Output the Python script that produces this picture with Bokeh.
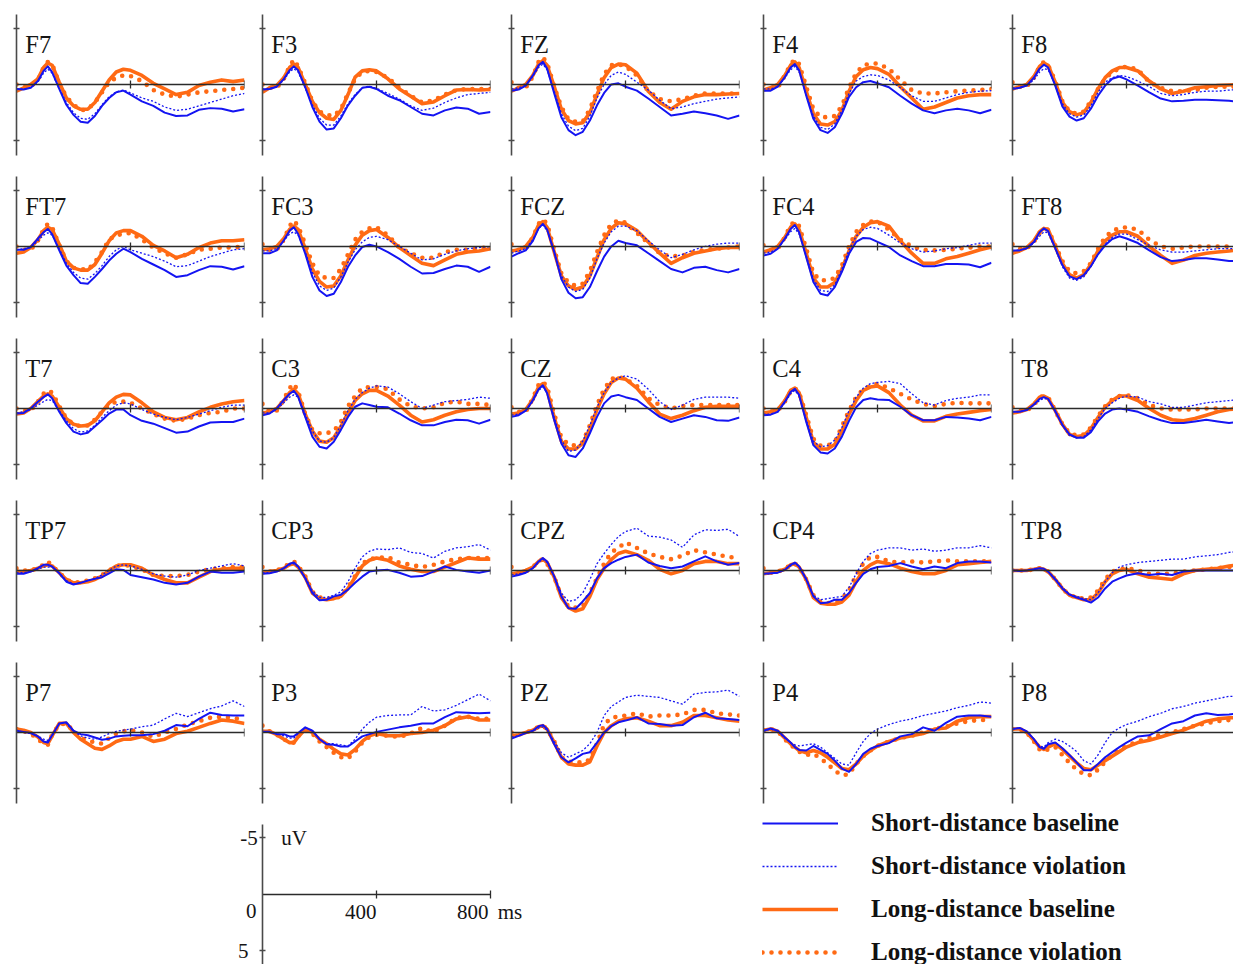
from bokeh.plotting import figure
from bokeh.models import (LinearAxis, FixedTicker, Range1d, Label, Legend, LegendItem,
                          CustomJSTickFormatter)
from bokeh.layouts import column, row
from bokeh.embed import file_html
from bokeh.resources import INLINE

# ---------------- data (µV, negative plotted up) ----------------
T = [0, 25, 50, 75, 95, 110, 125, 150, 175, 200, 225, 250, 275, 300, 325, 350, 375, 400,
     440, 480, 520, 560, 600, 640, 680, 720, 760, 800]

F7_sb = [0.4,0.45,0.3,-0.3,-1.2,-1.6,-1.1,0.4,1.8,2.7,3.3,3.4,2.8,1.9,1.2,0.7,0.55,0.9,1.5,1.9,2.5,2.8,2.75,2.25,2.1,2.15,2.4,2.2]
F7_sv = [0.4,0.4,0.3,-0.2,-1.0,-1.35,-1.0,0.4,1.6,2.5,3.0,3.1,2.6,1.8,1.1,0.65,0.5,0.75,1.2,1.5,2.0,2.3,2.2,1.9,1.6,1.3,1.0,0.8]
F7_lb = [0.6,0.3,0.0,-0.5,-1.5,-1.9,-1.7,-0.2,1.2,1.9,2.2,2.2,1.6,0.6,-0.4,-1.1,-1.35,-1.25,-0.8,-0.1,0.4,0.9,0.7,0.1,-0.2,-0.4,-0.25,-0.4]
F7_lv = [0.0,0.2,0.2,-0.4,-1.5,-2.0,-1.8,-0.1,1.1,1.8,2.3,2.2,1.6,0.7,-0.2,-0.6,-0.8,-0.75,-0.3,0.5,0.9,1.1,0.9,0.7,0.6,0.5,0.4,0.3]

F3_sb = [0.45,0.4,0.2,-0.5,-1.25,-1.6,-1.25,0.25,2.0,3.3,4.0,3.9,3.0,1.85,1.0,0.3,0.2,0.4,1.0,1.4,2.0,2.6,2.75,2.3,2.05,2.15,2.6,2.45]
F3_sv = [0.4,0.35,0.2,-0.4,-1.1,-1.4,-1.1,0.3,1.8,3.0,3.6,3.6,2.8,1.7,0.9,0.3,0.15,0.35,0.8,1.3,1.9,2.3,2.1,1.6,1.2,0.9,0.8,0.7]
F3_lb = [0.7,0.3,0.1,-0.6,-1.5,-1.8,-1.5,0.0,1.5,2.5,3.0,3.1,2.3,0.9,-0.65,-1.2,-1.3,-1.2,-0.5,0.4,1.05,1.7,1.55,1.0,0.5,0.45,0.5,0.45]
F3_lv = [0.0,0.3,0.3,-0.5,-1.6,-2.2,-1.6,-0.1,1.5,2.4,2.7,2.8,2.2,0.8,-0.5,-1.1,-1.2,-1.1,-0.6,0.3,1.0,1.6,1.4,0.9,0.5,0.4,0.4,0.4]

FZ_sb = [0.55,0.45,0.1,-0.8,-1.7,-2.0,-1.4,0.8,2.9,4.05,4.5,4.2,3.2,1.85,0.75,0.0,-0.1,0.2,0.55,1.25,2.0,2.75,2.6,2.4,2.55,2.75,3.05,2.75]
FZ_sv = [0.4,0.3,0.1,-0.7,-1.5,-1.8,-1.3,0.6,2.6,3.7,4.1,3.9,2.8,1.2,0.0,-0.8,-1.1,-0.9,-0.2,0.5,1.4,2.15,2.0,1.7,1.5,1.3,1.2,1.1]
FZ_lb = [0.6,0.3,0.0,-0.8,-1.8,-2.1,-1.7,0.2,2.2,3.2,3.5,3.4,2.5,0.9,-0.6,-1.5,-1.8,-1.75,-1.0,0.6,1.6,2.2,1.5,1.1,0.9,0.9,0.85,0.8]
FZ_lv = [-0.2,0.3,0.3,-0.7,-2.0,-2.4,-1.9,0.2,2.0,3.1,3.3,3.3,2.2,0.6,-0.9,-1.7,-1.8,-1.6,-0.8,0.6,1.3,1.5,1.3,1.0,0.8,0.8,0.8,0.8]

F4_sb = [0.55,0.55,0.2,-0.65,-1.5,-1.8,-1.25,1.0,3.05,4.05,4.3,3.8,2.6,1.1,0.25,-0.2,-0.3,-0.1,0.25,1.0,1.7,2.3,2.55,2.3,2.15,2.3,2.55,2.25]
F4_sv = [0.4,0.4,0.2,-0.6,-1.3,-1.6,-1.1,0.9,2.8,3.8,4.0,3.5,2.3,0.8,-0.3,-0.7,-0.85,-0.8,-0.4,0.3,1.0,1.5,1.5,1.2,0.9,0.7,0.6,0.55]
F4_lb = [0.5,0.3,0.0,-0.8,-1.7,-2.0,-1.5,0.6,2.6,3.5,3.6,3.3,2.3,0.6,-0.7,-1.3,-1.5,-1.4,-0.9,0.2,1.2,2.2,2.0,1.6,1.2,1.0,0.9,0.9]
F4_lv = [0.0,0.3,0.3,-0.8,-1.8,-2.2,-1.8,0.2,2.2,2.9,2.9,2.8,1.9,0.3,-1.0,-1.7,-1.85,-1.85,-1.4,-0.4,0.5,0.8,0.8,0.7,0.6,0.55,0.5,0.4]

F8_sb = [0.4,0.3,0.1,-0.6,-1.4,-1.75,-1.5,0.1,1.95,2.85,3.2,3.0,2.15,1.0,0.1,-0.5,-0.7,-0.45,0.1,0.7,1.25,1.5,1.45,1.35,1.35,1.4,1.45,1.55]
F8_sv = [0.3,0.3,0.1,-0.4,-1.1,-1.4,-1.3,0.0,1.7,2.6,2.9,2.7,1.9,0.7,-0.2,-0.6,-0.8,-0.7,-0.3,0.2,0.8,1.0,0.9,0.7,0.6,0.6,0.5,0.45]
F8_lb = [0.4,0.2,0.0,-0.7,-1.6,-1.9,-1.7,-0.2,1.6,2.4,2.7,2.5,1.6,0.4,-0.6,-1.2,-1.5,-1.5,-1.2,-0.3,0.4,0.8,0.6,0.3,0.2,0.1,0.05,0.0]
F8_lv = [-0.2,0.2,0.2,-0.6,-1.6,-2.0,-1.7,-0.3,1.5,2.4,2.6,2.4,1.5,0.4,-0.5,-1.1,-1.4,-1.6,-1.3,-0.2,0.3,0.6,0.6,0.5,0.3,0.2,0.2,0.2]

FT7_sb = [0.3,0.3,0.05,-0.7,-1.25,-1.55,-1.1,0.35,1.7,2.55,3.25,3.3,2.7,2.0,1.25,0.65,0.2,0.5,1.1,1.6,2.1,2.7,2.55,2.1,1.75,1.8,2.05,1.75]
FT7_sv = [0.3,0.2,0.1,-0.5,-1.0,-1.2,-1.0,0.2,1.5,2.3,2.8,2.9,2.4,1.7,0.9,0.3,0.0,0.3,0.6,0.9,1.3,1.8,1.7,1.3,0.9,0.6,0.3,0.2]
FT7_lb = [0.6,0.5,0.1,-0.6,-1.4,-1.7,-1.5,-0.2,1.3,1.9,2.1,2.1,1.6,0.6,-0.5,-1.2,-1.4,-1.4,-0.9,-0.1,0.4,1.0,0.7,0.1,-0.3,-0.5,-0.5,-0.6]
FT7_lv = [0.0,0.3,0.3,-0.5,-1.5,-2.0,-1.7,-0.1,1.3,1.9,2.0,2.1,1.4,0.5,-0.6,-1.0,-1.1,-1.2,-0.6,0.1,0.6,1.0,0.7,0.3,0.2,0.1,0.1,0.0]

FC3_sb = [0.6,0.6,0.35,-0.55,-1.4,-1.7,-1.1,0.65,2.7,3.9,4.4,4.2,3.15,1.8,0.8,0.05,-0.15,0.0,0.5,1.1,1.8,2.4,2.35,2.0,1.7,1.8,2.25,1.8]
FC3_sv = [0.4,0.4,0.2,-0.5,-1.1,-1.3,-1.0,0.5,2.3,3.5,3.9,3.7,2.7,1.4,0.3,-0.4,-0.8,-0.9,-0.6,0.0,0.6,1.2,1.1,0.7,0.4,0.2,0.1,0.0]
FC3_lb = [0.3,0.2,0.0,-0.7,-1.5,-1.8,-1.5,0.2,2.0,3.1,3.6,3.5,2.6,1.2,-0.1,-1.0,-1.4,-1.5,-0.8,0.1,0.8,1.5,1.7,1.2,0.7,0.5,0.4,0.2]
FC3_lv = [-0.2,0.3,0.3,-0.6,-1.8,-2.3,-1.8,-0.2,1.5,2.6,2.8,2.8,2.0,0.7,-0.6,-1.3,-1.6,-1.7,-1.0,0.1,0.6,1.0,1.0,0.5,0.3,0.3,0.2,0.0]

FCZ_sb = [0.9,0.6,0.35,-0.5,-1.6,-2.0,-1.5,0.5,2.9,4.1,4.6,4.5,3.6,2.2,0.9,0.0,-0.5,-0.3,-0.1,0.6,1.3,2.0,2.3,1.9,1.8,2.1,2.3,2.0]
FCZ_sv = [0.6,0.4,0.2,-0.6,-1.6,-1.9,-1.4,0.4,2.6,3.6,4.0,3.8,2.8,1.1,-0.3,-1.3,-1.8,-1.8,-1.4,-0.5,0.3,1.0,0.7,0.3,0.0,-0.2,-0.3,-0.3]
FCZ_lb = [0.4,0.3,0.0,-0.8,-1.9,-2.2,-1.7,0.5,2.6,3.5,3.8,3.6,2.6,1.0,-0.6,-1.6,-2.1,-2.0,-1.4,-0.4,0.6,1.5,1.0,0.6,0.4,0.2,0.1,0.1]
FCZ_lv = [-0.2,0.3,0.2,-0.8,-2.0,-2.4,-2.0,0.3,2.4,3.2,3.5,3.3,2.2,0.5,-1.0,-2.0,-2.3,-2.1,-1.2,-0.3,0.6,0.9,0.8,0.5,0.3,0.2,0.1,0.0]

FC4_sb = [0.8,0.65,0.2,-0.7,-1.55,-1.9,-1.25,0.95,3.15,4.2,4.35,3.6,2.25,0.65,-0.4,-0.75,-0.7,-0.4,0.05,0.8,1.3,1.75,1.75,1.55,1.55,1.6,1.85,1.45]
FC4_sv = [0.6,0.5,0.2,-0.6,-1.3,-1.6,-1.1,0.8,2.9,3.9,4.0,3.4,2.0,0.3,-0.9,-1.5,-1.7,-1.6,-1.0,-0.3,0.2,0.5,0.4,0.2,0.1,-0.1,-0.3,-0.3]
FC4_lb = [0.5,0.3,0.0,-0.8,-1.7,-2.0,-1.5,0.6,2.8,3.6,3.6,3.2,2.0,0.4,-0.9,-1.7,-2.1,-2.2,-1.8,-0.5,0.6,1.5,1.5,1.1,0.9,0.6,0.3,0.05]
FC4_lv = [-0.1,0.3,0.2,-0.8,-1.9,-2.2,-1.8,0.2,2.4,3.0,3.0,2.8,1.7,0.0,-1.3,-1.9,-2.2,-2.2,-1.5,-0.6,0.0,0.3,0.35,0.3,0.2,0.1,0.0,0.0]

FT8_sb = [0.35,0.35,0.15,-0.4,-1.25,-1.6,-1.35,0.15,1.65,2.65,2.9,2.55,1.75,0.7,-0.1,-0.65,-0.9,-0.7,-0.3,0.35,0.95,1.3,1.2,1.05,1.05,1.15,1.3,1.3]
FT8_sv = [0.4,0.3,0.2,-0.3,-0.9,-1.3,-1.2,0.2,1.8,2.8,3.0,2.7,1.8,0.7,-0.2,-0.8,-1.1,-1.1,-0.6,-0.1,0.3,0.5,0.5,0.4,0.3,0.2,0.2,0.2]
FT8_lb = [0.6,0.4,0.1,-0.5,-1.3,-1.6,-1.5,0.0,1.5,2.5,2.8,2.5,1.6,0.4,-0.5,-1.0,-1.3,-1.3,-0.9,0.0,0.8,1.5,1.2,0.8,0.6,0.5,0.4,0.3]
FT8_lv = [-0.2,0.2,0.2,-0.4,-1.2,-1.5,-1.5,-0.1,1.3,2.2,2.4,2.2,1.5,0.2,-0.8,-1.4,-1.6,-1.7,-1.5,-0.6,0.0,0.2,0.1,0.0,0.0,0.0,0.0,0.0]

T7_sb = [0.45,0.4,0.0,-0.6,-1.0,-1.25,-0.9,0.3,1.3,2.05,2.3,2.15,1.6,1.05,0.45,0.1,0.1,0.6,1.1,1.35,1.75,2.15,2.05,1.6,1.25,1.2,1.2,0.9]
T7_sv = [0.4,0.3,0.1,-0.3,-0.6,-0.8,-0.7,0.2,1.1,1.8,2.1,2.0,1.5,0.8,0.2,-0.3,-0.5,-0.4,0.1,0.5,0.8,1.0,0.8,0.5,0.2,-0.1,-0.3,-0.3]
T7_lb = [0.5,0.4,0.0,-0.6,-1.1,-1.3,-1.1,-0.1,0.9,1.4,1.55,1.5,1.1,0.3,-0.5,-1.0,-1.25,-1.2,-0.5,0.3,0.8,1.0,0.8,0.3,-0.1,-0.4,-0.6,-0.7]
T7_lv = [0.0,0.2,0.2,-0.6,-1.3,-1.6,-1.4,-0.2,0.9,1.4,1.6,1.5,1.0,0.3,-0.3,-0.6,-0.6,-0.5,0.0,0.5,0.9,1.1,0.9,0.6,0.4,0.3,0.0,0.0]

C3_sb = [0.6,0.45,0.0,-0.75,-1.3,-1.55,-1.05,0.75,2.5,3.4,3.55,2.95,1.9,0.75,-0.15,-0.45,-0.3,-0.15,-0.1,0.45,1.05,1.5,1.5,1.2,1.0,1.05,1.35,1.0]
C3_sv = [0.4,0.4,0.1,-0.5,-1.0,-1.2,-1.0,0.5,2.0,2.9,3.0,2.6,1.5,0.2,-0.8,-1.4,-1.8,-2.0,-1.9,-1.3,-0.6,0.0,-0.3,-0.6,-0.7,-0.8,-1.0,-0.9]
C3_lb = [0.4,0.3,0.0,-0.7,-1.4,-1.7,-1.3,0.5,2.0,2.9,3.0,2.6,1.6,0.4,-0.7,-1.3,-1.6,-1.6,-1.1,-0.3,0.6,1.2,1.0,0.6,0.3,0.1,0.0,0.0]
C3_lv = [-0.4,0.3,0.2,-0.8,-1.8,-2.2,-1.5,0.5,1.9,2.2,2.2,2.0,1.2,-0.2,-1.1,-1.8,-1.9,-1.9,-1.7,-0.8,-0.2,0.0,-0.1,-0.5,-0.6,-0.4,-0.4,-0.3]

CZ_sb = [0.75,0.6,0.2,-0.75,-1.7,-2.05,-1.35,1.05,3.1,4.15,4.3,3.55,2.2,0.75,-0.45,-1.05,-1.2,-1.0,-0.75,0.0,0.75,1.2,0.9,0.6,0.75,1.05,1.1,0.8]
CZ_sv = [0.6,0.5,0.2,-0.6,-1.6,-1.9,-1.4,0.8,2.8,3.8,3.7,2.9,1.5,-0.1,-1.4,-2.3,-2.7,-2.9,-2.6,-1.7,-0.6,0.1,-0.3,-0.8,-1.0,-1.0,-1.0,-0.9]
CZ_lb = [0.5,0.4,0.1,-0.8,-1.9,-2.2,-1.6,0.8,2.9,3.6,3.6,3.1,1.8,0.1,-1.3,-2.3,-2.7,-2.6,-1.8,-0.6,0.5,0.9,0.6,0.2,-0.1,-0.2,-0.2,-0.2]
CZ_lv = [-0.1,0.3,0.3,-0.9,-2.1,-2.4,-1.9,0.5,2.6,3.2,3.3,3.0,1.5,-0.3,-1.7,-2.6,-2.8,-2.6,-2.0,-0.9,-0.3,0.0,-0.2,-0.3,-0.3,-0.3,-0.3,-0.3]

C4_sb = [0.6,0.55,0.3,-0.6,-1.45,-1.75,-1.2,1.2,3.25,3.9,4.0,3.55,2.5,1.1,-0.1,-0.75,-0.9,-0.8,-0.75,-0.15,0.6,1.05,1.05,0.75,0.8,0.9,1.05,0.75]
C4_sv = [0.5,0.5,0.3,-0.5,-1.3,-1.6,-1.1,1.0,2.9,3.4,3.3,2.8,1.7,0.2,-1.0,-1.8,-2.2,-2.3,-2.4,-2.2,-1.3,-0.5,-0.3,-0.7,-0.9,-1.0,-1.2,-1.2]
C4_lb = [0.4,0.3,0.1,-0.7,-1.6,-1.8,-1.4,0.8,3.0,3.6,3.6,3.2,2.0,0.5,-0.7,-1.6,-1.9,-2.0,-1.4,-0.3,0.6,1.1,1.1,0.7,0.5,0.35,0.2,0.1]
C4_lv = [0.0,0.3,0.2,-0.6,-1.5,-1.8,-1.4,0.6,2.7,3.3,3.3,3.0,1.6,0.2,-1.0,-1.7,-2.0,-2.2,-1.8,-1.3,-0.8,-0.4,-0.2,-0.4,-0.5,-0.45,-0.45,-0.45]

T8_sb = [0.3,0.3,0.15,-0.35,-0.85,-1.0,-0.85,0.25,1.45,2.3,2.6,2.6,2.1,1.15,0.45,0.1,0.0,0.1,0.3,0.7,1.05,1.3,1.3,1.15,1.0,1.15,1.3,1.15]
T8_sv = [0.3,0.3,0.1,-0.3,-0.7,-0.9,-0.8,0.2,1.5,2.4,2.6,2.5,1.9,0.9,0.0,-0.5,-0.9,-1.1,-1.0,-0.6,-0.4,-0.1,-0.1,-0.3,-0.5,-0.6,-0.7,-0.8]
T8_lb = [0.4,0.3,0.1,-0.4,-1.0,-1.1,-0.9,0.2,1.4,2.3,2.5,2.4,1.8,0.8,-0.1,-0.7,-1.1,-1.1,-0.7,0.0,0.6,1.0,1.1,0.9,0.6,0.3,0.1,0.0]
T8_lv = [-0.1,0.2,0.2,-0.3,-1.0,-1.1,-1.0,0.2,1.4,2.2,2.4,2.3,1.7,0.7,-0.2,-0.8,-1.1,-1.2,-0.9,-0.3,0.0,0.1,0.1,0.1,0.0,0.0,0.0,0.0]

TP7_sb = [0.3,0.3,0.1,-0.2,-0.5,-0.5,-0.35,0.25,1.0,1.25,1.1,0.9,0.75,0.6,0.25,-0.1,-0.05,0.4,0.6,0.8,1.1,1.25,1.1,0.55,0.1,0.2,0.2,0.1]
TP7_sv = [0.2,0.2,0.1,-0.1,-0.3,-0.3,-0.3,0.2,0.9,1.2,1.1,0.9,0.7,0.4,0.0,-0.4,-0.5,-0.4,-0.1,0.3,0.5,0.6,0.4,0.0,-0.2,-0.4,-0.6,-0.4]
TP7_lb = [0.1,0.1,0.0,-0.2,-0.4,-0.5,-0.4,0.2,0.8,1.1,1.1,1.0,0.8,0.5,0.0,-0.4,-0.5,-0.5,-0.2,0.4,0.8,1.1,1.1,0.6,0.1,-0.1,-0.2,-0.2]
TP7_lv = [-0.2,0.0,0.0,-0.2,-0.5,-0.8,-0.4,0.2,0.8,1.1,1.0,0.9,0.7,0.4,0.0,-0.4,-0.5,-0.4,-0.1,0.4,0.5,0.5,0.4,0.1,-0.1,-0.2,-0.3,-0.3]

CP3_sb = [0.3,0.25,0.1,-0.2,-0.6,-0.7,-0.35,0.7,2.0,2.65,2.6,2.3,2.15,1.7,1.1,0.55,0.1,0.0,-0.05,0.2,0.55,0.5,0.1,-0.35,-0.05,0.1,0.2,0.0]
CP3_sv = [0.2,0.2,0.1,-0.2,-0.5,-0.6,-0.3,0.6,1.8,2.4,2.4,2.2,1.9,1.0,-0.2,-1.2,-1.7,-1.9,-1.85,-2.0,-1.6,-1.5,-1.1,-1.7,-2.0,-2.1,-2.3,-1.8]
CP3_lb = [0.2,0.1,0.0,-0.2,-0.5,-0.6,-0.3,0.6,2.0,2.5,2.6,2.5,2.3,1.6,0.6,-0.4,-0.9,-1.1,-0.9,-0.4,-0.1,0.1,0.1,-0.3,-0.7,-1.1,-1.0,-1.0]
CP3_lv = [-0.3,0.1,0.0,-0.3,-0.6,-0.8,-0.4,0.5,1.9,2.4,2.5,2.5,2.3,1.5,0.5,-0.6,-1.0,-1.1,-1.2,-0.7,-0.5,-0.3,-0.5,-0.8,-1.0,-1.1,-1.1,-1.1]

CPZ_sb = [0.55,0.4,0.2,-0.2,-0.8,-1.1,-0.8,0.55,2.3,3.35,3.4,2.75,2.0,0.7,-0.2,-0.65,-0.95,-1.2,-1.4,-0.7,-0.4,-0.2,-0.35,-0.8,-1.25,-0.8,-0.5,-0.65]
CPZ_sv = [0.4,0.3,0.2,-0.2,-0.7,-1.0,-0.7,0.5,2.0,2.75,2.6,2.0,0.8,-0.6,-1.5,-2.3,-3.0,-3.45,-3.75,-3.05,-2.95,-2.7,-2.05,-3.15,-3.6,-3.55,-3.65,-3.0]
CPZ_lb = [0.3,0.2,0.0,-0.3,-0.8,-1.0,-0.7,0.6,2.4,3.3,3.6,3.4,2.3,0.8,-0.2,-0.95,-1.5,-1.7,-1.4,-0.9,-0.1,0.3,0.0,-0.6,-0.8,-0.8,-0.6,-0.6]
CPZ_lv = [-0.3,0.2,0.1,-0.3,-0.8,-1.0,-0.6,0.6,2.3,3.2,3.3,3.2,2.0,0.7,-0.6,-1.6,-2.0,-2.5,-2.0,-1.5,-1.2,-1.0,-1.3,-1.8,-1.6,-1.4,-1.2,-1.1]

CP4_sb = [0.3,0.25,0.2,-0.05,-0.5,-0.7,-0.35,0.8,2.3,2.9,2.85,2.6,2.6,2.0,1.1,0.3,-0.1,-0.3,-0.4,-0.65,-0.35,-0.1,-0.35,-0.2,-0.65,-0.8,-0.8,-0.7]
CP4_sv = [0.3,0.3,0.2,-0.1,-0.4,-0.6,-0.4,0.7,2.2,2.6,2.5,2.4,2.3,1.5,0.3,-0.8,-1.5,-1.8,-2.0,-2.0,-1.8,-1.9,-1.7,-1.8,-2.0,-2.0,-2.2,-2.0]
CP4_lb = [0.3,0.2,0.1,-0.1,-0.5,-0.6,-0.3,0.8,2.4,2.9,3.0,3.0,2.8,2.2,1.0,0.0,-0.5,-0.8,-0.6,-0.2,0.1,0.3,0.3,0.0,-0.5,-0.6,-0.7,-0.8]
CP4_lv = [-0.2,0.2,0.1,-0.1,-0.5,-0.6,-0.3,0.8,2.2,2.8,2.9,2.8,2.5,1.8,0.4,-0.6,-1.2,-1.2,-0.8,-0.7,-0.8,-0.7,-0.8,-0.9,-0.8,-0.8,-0.8,-0.8]

TP8_sb = [0.0,0.05,0.0,-0.1,-0.2,-0.15,0.1,0.8,1.6,2.15,2.4,2.6,2.85,2.4,1.6,1.0,0.7,0.45,0.25,0.4,0.3,0.4,0.1,0.0,0.0,0.0,0.0,0.0]
TP8_sv = [0.0,0.0,0.0,-0.1,-0.2,-0.1,0.1,0.7,1.5,2.1,2.3,2.5,2.6,2.0,1.0,0.2,-0.3,-0.5,-0.7,-0.8,-0.9,-1.0,-1.0,-1.2,-1.3,-1.4,-1.6,-1.7]
TP8_lb = [0.0,0.0,0.0,-0.1,-0.2,-0.1,0.1,0.8,1.6,2.2,2.4,2.6,2.6,2.0,1.0,0.3,0.0,-0.1,0.3,0.6,0.7,0.8,0.3,0.0,-0.1,-0.2,-0.4,-0.5]
TP8_lv = [0.0,0.0,0.0,-0.1,-0.2,-0.1,0.1,0.8,1.6,2.2,2.4,2.5,2.4,1.8,0.8,0.1,-0.1,-0.2,0.0,0.3,0.3,0.3,0.1,0.0,-0.1,-0.2,-0.3,-0.4]

P7_sb = [-0.15,-0.05,0.05,0.35,0.8,0.9,0.25,-0.8,-0.9,-0.15,0.15,0.25,0.45,0.65,0.55,0.35,0.3,0.25,0.25,0.15,-0.15,-0.65,-0.55,-1.2,-1.75,-1.55,-1.5,-1.5]
P7_sv = [-0.2,0.0,0.1,0.3,0.6,0.7,0.3,-0.8,-0.8,-0.1,0.3,0.5,0.6,0.4,0.1,-0.1,-0.2,-0.3,-0.5,-0.65,-1.2,-1.7,-1.4,-1.75,-2.1,-2.35,-2.8,-2.3]
P7_lb = [-0.3,-0.2,0.0,0.4,0.9,1.0,0.3,-0.8,-0.8,0.0,0.6,1.0,1.4,1.5,1.2,0.8,0.6,0.6,0.35,0.8,0.6,0.1,-0.1,-0.45,-0.8,-1.1,-1.0,-0.8]
P7_lv = [-0.3,-0.1,0.1,0.6,1.0,1.1,0.2,-0.7,-0.8,-0.1,0.5,0.7,0.9,1.0,0.5,0.1,-0.1,-0.2,0.0,0.4,0.0,-0.3,-0.7,-1.0,-1.3,-1.4,-1.3,-1.1]

P3_sb = [-0.05,-0.05,0.15,0.15,0.35,0.35,0.05,-0.45,-0.15,0.6,1.05,1.1,1.25,1.25,0.8,0.35,0.15,-0.05,-0.25,-0.45,-0.6,-0.8,-0.8,-1.35,-1.8,-1.75,-1.7,-1.75]
P3_sv = [0.0,0.0,0.1,0.3,0.5,0.5,0.1,-0.4,-0.2,0.6,1.0,1.0,1.1,1.2,0.6,-0.3,-0.9,-1.35,-1.5,-1.55,-1.55,-2.3,-1.9,-2.0,-2.4,-2.9,-3.4,-2.8]
P3_lb = [-0.1,-0.1,0.2,0.6,0.9,0.9,0.4,-0.3,0.0,0.6,1.0,1.5,1.9,2.0,1.5,0.8,0.3,0.1,0.3,0.3,0.1,0.0,-0.2,-0.6,-1.2,-1.4,-1.1,-1.1]
P3_lv = [-0.6,-0.1,0.2,0.6,0.9,0.9,0.3,-0.2,0.1,0.8,1.3,1.8,2.2,2.3,1.7,0.9,0.4,0.2,0.3,0.4,0.1,-0.4,0.0,-0.6,-1.3,-1.4,-1.2,-1.2]

PZ_sb = [0.55,0.3,0.05,-0.15,-0.55,-0.65,-0.3,1.05,2.2,2.65,2.3,1.9,1.75,0.9,0.0,-0.55,-0.9,-1.05,-1.35,-0.8,-0.75,-0.6,-0.65,-1.35,-1.75,-1.25,-1.2,-1.1]
PZ_sv = [0.4,0.3,0.0,-0.1,-0.4,-0.5,-0.2,0.8,1.8,2.2,1.9,1.6,1.0,0.0,-1.5,-2.3,-2.7,-3.1,-3.3,-3.2,-3.1,-2.8,-2.5,-3.4,-3.55,-3.6,-3.75,-3.2]
PZ_lb = [0.3,0.2,0.0,-0.2,-0.5,-0.6,-0.3,0.9,2.2,2.8,2.9,2.9,2.6,1.2,0.0,-0.6,-1.0,-1.2,-1.3,-1.0,-0.6,-0.6,-0.9,-1.5,-1.5,-1.3,-1.1,-1.0]
PZ_lv = [0.0,0.2,0.0,-0.2,-0.5,-0.6,-0.3,0.8,2.2,2.6,2.6,2.7,2.4,1.0,-0.7,-1.3,-1.4,-1.5,-1.7,-1.4,-1.5,-1.5,-1.6,-2.0,-2.0,-1.7,-1.6,-1.5]

P4_sb = [-0.15,-0.35,-0.15,0.45,0.9,1.3,1.55,1.6,1.2,1.55,1.9,2.5,3.2,3.5,2.8,1.9,1.45,1.2,0.95,0.35,0.15,-0.45,-0.15,-0.85,-1.4,-1.5,-1.5,-1.4]
P4_sv = [-0.1,-0.3,-0.1,0.5,0.9,1.1,1.2,1.1,1.0,1.3,1.8,2.3,2.8,2.9,1.8,0.8,0.1,-0.3,-0.7,-1.0,-1.2,-1.5,-1.7,-1.9,-2.2,-2.4,-2.7,-2.6]
P4_lb = [-0.2,-0.3,-0.1,0.5,1.0,1.3,1.6,1.8,1.6,1.8,2.2,2.7,3.2,3.3,2.8,2.1,1.6,1.2,0.8,0.5,0.3,0.1,-0.3,-0.4,-1.0,-1.3,-1.4,-1.4]
P4_lv = [-0.2,-0.3,-0.1,0.6,1.1,1.4,1.7,2.0,1.9,2.3,2.8,3.4,3.8,3.7,2.8,2.1,1.6,1.2,0.8,0.5,0.3,0.0,-0.3,-0.5,-0.8,-1.0,-1.1,-1.1]

P8_sb = [-0.3,-0.4,-0.1,0.6,1.3,1.45,1.05,0.9,1.4,2.0,2.65,3.35,3.35,2.8,2.2,1.75,1.3,0.9,0.35,0.25,-0.3,-0.8,-1.0,-1.5,-1.7,-1.55,-1.6,-1.7]
P8_sv = [-0.3,-0.4,-0.1,0.6,1.2,1.3,0.9,0.6,0.8,1.2,1.7,2.5,2.8,2.0,0.9,0.0,-0.4,-0.7,-1.0,-1.4,-1.7,-2.1,-2.3,-2.6,-2.8,-3.0,-3.2,-3.2]
P8_lb = [-0.3,-0.3,0.0,0.7,1.3,1.5,1.3,1.0,1.5,2.1,2.7,3.2,3.3,2.9,2.5,2.1,1.7,1.3,0.9,0.7,0.4,0.1,-0.2,-0.6,-1.0,-1.2,-1.3,-1.3]
P8_lv = [-0.3,-0.3,0.0,0.8,1.5,1.7,1.5,1.3,2.0,2.7,3.3,3.7,3.8,3.3,2.6,2.0,1.6,1.2,0.8,0.5,0.2,0.0,-0.3,-0.6,-0.8,-1.0,-1.1,-1.1]

GRID = [
    [("F7", F7_sb, F7_sv, F7_lb, F7_lv), ("F3", F3_sb, F3_sv, F3_lb, F3_lv),
     ("FZ", FZ_sb, FZ_sv, FZ_lb, FZ_lv), ("F4", F4_sb, F4_sv, F4_lb, F4_lv),
     ("F8", F8_sb, F8_sv, F8_lb, F8_lv)],
    [("FT7", FT7_sb, FT7_sv, FT7_lb, FT7_lv), ("FC3", FC3_sb, FC3_sv, FC3_lb, FC3_lv),
     ("FCZ", FCZ_sb, FCZ_sv, FCZ_lb, FCZ_lv), ("FC4", FC4_sb, FC4_sv, FC4_lb, FC4_lv),
     ("FT8", FT8_sb, FT8_sv, FT8_lb, FT8_lv)],
    [("T7", T7_sb, T7_sv, T7_lb, T7_lv), ("C3", C3_sb, C3_sv, C3_lb, C3_lv),
     ("CZ", CZ_sb, CZ_sv, CZ_lb, CZ_lv), ("C4", C4_sb, C4_sv, C4_lb, C4_lv),
     ("T8", T8_sb, T8_sv, T8_lb, T8_lv)],
    [("TP7", TP7_sb, TP7_sv, TP7_lb, TP7_lv), ("CP3", CP3_sb, CP3_sv, CP3_lb, CP3_lv),
     ("CPZ", CPZ_sb, CPZ_sv, CPZ_lb, CPZ_lv), ("CP4", CP4_sb, CP4_sv, CP4_lb, CP4_lv),
     ("TP8", TP8_sb, TP8_sv, TP8_lb, TP8_lv)],
    [("P7", P7_sb, P7_sv, P7_lb, P7_lv), ("P3", P3_sb, P3_sv, P3_lb, P3_lv),
     ("PZ", PZ_sb, PZ_sv, PZ_lb, PZ_lv), ("P4", P4_sb, P4_sv, P4_lb, P4_lv),
     ("P8", P8_sb, P8_sv, P8_lb, P8_lv)],
]

LEGEND_LABELS = ["Short-distance baseline", "Short-distance violation",
                 "Long-distance baseline", "Long-distance violation"]

for r in GRID:
    for item in r:
        for s in item[1:]:
            assert len(s) == len(T), item[0]

# ---------------- styling / layout ----------------
BLUE = "#1414f2"
ORANGE = "#ff6a14"
VAXIS = "#4a4a4a"
ZAXIS = "#2b2b2b"
SERIF = "Liberation Serif"

COL_W = [246, 249, 252, 249, 237]
LEFT = 16
FRAME_W = 228
PX_MS = FRAME_W / 800.0
ROW_H = 162
FRAME_H = 141
Y_TOP, Y_BOT = -6.2, 6.3
PX_UV = FRAME_H / (Y_BOT - Y_TOP)

STYLE = dict(
    sb=dict(line_color=BLUE, line_width=2.0, line_join="round"),
    sv=dict(line_color=BLUE, line_width=1.3, line_dash="2 2"),
    lb=dict(line_color=ORANGE, line_width=3.6, line_join="round"),
    lv=dict(line_color=ORANGE, line_width=4.6, line_dash="0 9", line_cap="round"),
)

blank = CustomJSTickFormatter(code="return ''")


def add_axes(p, xbounds="auto", ybounds="auto", y_fixed=None):
    yax = LinearAxis(ticker=FixedTicker(ticks=[-5, 5]), formatter=blank,
                     bounds=ybounds, fixed_location=y_fixed,
                     major_tick_in=3, major_tick_out=3,
                     axis_line_color=VAXIS, axis_line_width=1.6,
                     major_tick_line_color=VAXIS, major_tick_line_width=1.4,
                     minor_tick_line_color=None, major_label_standoff=0)
    p.add_layout(yax, "left")
    xax = LinearAxis(fixed_location=0, ticker=FixedTicker(ticks=[400, 800]), formatter=blank,
                     bounds=xbounds, major_tick_in=4, major_tick_out=4,
                     axis_line_color=ZAXIS, axis_line_width=1.3,
                     major_tick_line_color=ZAXIS, major_tick_line_width=1.3,
                     minor_tick_line_color=None, major_label_standoff=0)
    p.add_layout(xax, "below")


def panel(name, sb, sv, lb, lv, ci):
    w = COL_W[ci]
    fw = min(FRAME_W, w - LEFT)
    p = figure(width=w, height=ROW_H, title=None,
               x_range=Range1d(0, fw / PX_MS), y_range=Range1d(Y_BOT, Y_TOP),
               x_axis_type=None, y_axis_type=None, toolbar_location=None,
               output_backend="svg",
               min_border_left=LEFT, min_border_right=w - LEFT - fw,
               min_border_top=14, min_border_bottom=ROW_H - 14 - FRAME_H)
    p.outline_line_color = None
    p.background_fill_color = "white"
    add_axes(p)
    p.line(T, lb, **STYLE["lb"])
    p.line(T, lv, **STYLE["lv"])
    p.line(T, sv, **STYLE["sv"])
    p.line(T, sb, **STYLE["sb"])
    # label: em-middle 8 px above the glyph baseline (baseline ~32 px above zero line)
    p.add_layout(Label(x=31, y=-3.56, text=name, text_font=SERIF, text_font_size="24.5px",
                       text_color="#151515", text_baseline="middle"))
    return p


rows = []
for r in GRID:
    rows.append(row(*[panel(*item, ci) for ci, item in enumerate(r)]))

# ---------------- bottom row: scale bar + legend ----------------
BW, BH = 1233, 154
AXIS_X = 262          # page x of the scale's time-zero axis
BLEFT = 226           # frame starts a bit left of it so tick labels stay inside
zero_px = 83.5
pb = figure(width=BW, height=BH, title=None,
            x_range=Range1d(-(AXIS_X - BLEFT) / PX_MS, (BW - AXIS_X) / PX_MS),
            y_range=Range1d((BH - zero_px) / PX_UV, -zero_px / PX_UV),
            x_axis_type=None, y_axis_type=None, toolbar_location=None,
            output_backend="svg",
            min_border_left=BLEFT, min_border_right=0, min_border_top=0, min_border_bottom=0)
pb.outline_line_color = None
add_axes(pb, xbounds=(0, 800), ybounds=(-6.2, 6.4), y_fixed=0)

lab = dict(text_font=SERIF, text_font_size="21px", text_color="#151515",
           text_baseline="middle")
pb.add_layout(Label(x=-17, y=-5.0, text="-5", text_align="right", **lab))
pb.add_layout(Label(x=-21, y=1.5, text="0", text_align="right", **lab))
pb.add_layout(Label(x=-49, y=5.05, text="5", text_align="right", **lab))
pb.add_layout(Label(x=66, y=-5.0, text="uV", text_align="left", **lab))
pb.add_layout(Label(x=400, y=1.6, text="400", text_align="right", **lab))
pb.add_layout(Label(x=793, y=1.6, text="800", text_align="right", **lab))
pb.add_layout(Label(x=825, y=1.6, text="ms", text_align="left", **lab))

NAN = [float("nan")]
r_sb = pb.line(NAN, NAN, **STYLE["sb"])
r_sv = pb.line(NAN, NAN, **STYLE["sv"])
r_lb = pb.line(NAN, NAN, **STYLE["lb"])
r_lv = pb.line(NAN, NAN, **STYLE["lv"])
legend = Legend(items=[LegendItem(label=LEGEND_LABELS[0], renderers=[r_sb]),
                       LegendItem(label=LEGEND_LABELS[1], renderers=[r_sv]),
                       LegendItem(label=LEGEND_LABELS[2], renderers=[r_lb]),
                       LegendItem(label=LEGEND_LABELS[3], renderers=[r_lv])],
                location=(762 - BLEFT, -3), orientation="vertical",
                glyph_width=76, glyph_height=30, label_height=30, spacing=13,
                label_standoff=33, padding=0, margin=0,
                border_line_color=None, background_fill_alpha=0,
                label_text_font=SERIF, label_text_font_style="bold",
                label_text_font_size="25px", label_text_color="#111111")
pb.add_layout(legend)

layout = column(*rows, pb)
open("out.html", "w").write(file_html(layout, INLINE))
